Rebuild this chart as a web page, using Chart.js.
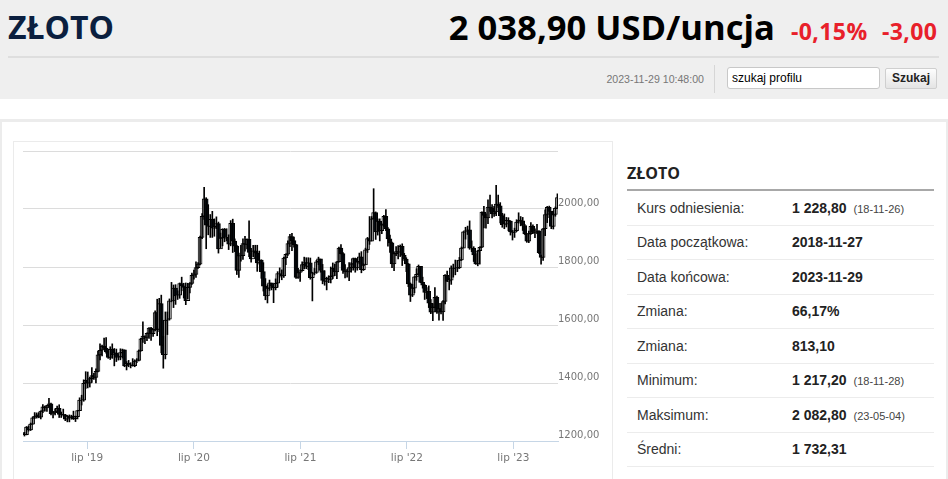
<!DOCTYPE html>
<html><head><meta charset="utf-8">
<script src="https://cdn.jsdelivr.net/npm/chart.js@4.4.0/dist/chart.umd.min.js"></script>
<style>
html,body{margin:0;padding:0;background:#fff;width:948px;height:479px;overflow:hidden;font-family:"Liberation Sans",Arial,sans-serif;}
.abs{position:absolute;white-space:nowrap;}
#hdr{position:absolute;left:0;top:0;width:948px;height:99px;background:#efefef;}
#sep{position:absolute;left:8px;top:56px;width:931px;height:2px;background:#dedede;}
#title{left:8px;top:11px;font:700 32px/32px "Open Sans",sans-serif;color:#0b1f3f;}
#price{right:173px;top:9px;font:700 34.6px/35px "Open Sans",sans-serif;color:#000;}
.red{font:700 23px/23px "Open Sans",sans-serif;color:#e8202a;top:20px;letter-spacing:0.4px;}
#date{right:244px;top:73px;font:10.6px/12px "Liberation Sans",Arial;color:#777;}
#vsep{position:absolute;left:714px;top:65px;width:1px;height:28px;background:#d6d6d6;}
#inp{position:absolute;left:727px;top:67px;border:1px solid #c8c8c8;border-radius:3px;background:#fff;font:12px/20px "Liberation Sans",Arial;color:#000;padding-left:4px;box-sizing:border-box;width:153px;height:22px;}
#btn{position:absolute;left:885px;top:68px;width:52px;height:21px;box-sizing:border-box;border:1px solid #cfcfcf;border-radius:2px;background:linear-gradient(#fdfdfd,#e4e4e4);font:700 12px/19px "Liberation Sans",Arial;color:#222;text-align:center;}
#outer{position:absolute;left:0;top:119px;width:948px;height:360px;box-sizing:border-box;border-top:3px solid #ececec;border-left:2px solid #ececec;border-right:2px solid #ececec;}
#panel{position:absolute;left:13px;top:141px;width:600px;height:340px;box-sizing:border-box;border:1px solid #ebebeb;}
#panel canvas{position:absolute;left:0;top:0;}
#rt{left:627px;top:163px;font:700 16px/20px "Open Sans",sans-serif;color:#222;}
#rline{position:absolute;left:627px;top:189px;width:307px;height:2px;background:#a8a8a8;}
.row{position:absolute;left:627px;width:307px;height:34px;border-bottom:1px solid #ececec;}
.lab{position:absolute;left:10px;top:0;font:14px/34px "Liberation Sans",Arial;color:#333;white-space:nowrap;}
.val{position:absolute;left:165px;top:0;font:700 14px/34px "Liberation Sans",Arial;color:#222;white-space:nowrap;}
.val small{font:400 11px "Liberation Sans",Arial;color:#444;margin-left:7px;}
</style></head>
<body>
<div id="hdr"></div>
<div id="sep"></div>
<div class="abs" id="title">ZŁOTO</div>
<div class="abs" id="price">2 038,90 USD/uncja</div>
<div class="abs red" style="left:791px">-0,15%</div>
<div class="abs red" style="left:882px">-3,00</div>
<div class="abs" id="date">2023-11-29 10:48:00</div>
<div id="vsep"></div>
<div id="inp">szukaj profilu</div>
<div id="btn">Szukaj</div>
<div id="outer"></div>
<div id="panel"><canvas id="c" width="598" height="338" style="width:598px;height:338px"></canvas></div>
<div class="abs" id="rt">ZŁOTO</div>
<div id="rline"></div>
<div id="tbl"></div>
<script>
// ---- data (weekly OHLC, USD/oz) ----
const firstWeek = [2018, 10, 28];           // Wednesday of first week
const referenceOpen = 1228.8;
const closes = [
1222,1248,1238,1258,1280,
1285,1290,1282,1303, 1318,1314,1322,1328, 1294,1298,1302,1313,1292, 1291,1290,1275,1286, 1280,1286,1277,1284,1305, 1341,1341,1399,1409, 1399,1415,1426,1419, 1440,1497,1513,1527,1520, 1507,1488,1516,1497, 1504,1488,1490,1505, 1514,1459,1468,1462,1463, 1460,1476,1478,1511,
1552,1562,1557,1571,1589, 1570,1584,1643,1585, 1674,1530,1498,1617, 1620,1683,1683,1727, 1700,1703,1743,1735,1730, 1684,1730,1743,1771, 1774,1798,1810,1902,1975, 2035,1944,1940,1964, 1934,1940,1950,1862, 1900,1930,1899,1902,1879, 1951,1889,1872,1788, 1839,1839,1881,1878,
1895,1850,1828,1856,1848, 1814,1824,1784,1734, 1700,1727,1745,1733, 1729,1744,1777,1777,1769, 1831,1844,1881,1905, 1891,1877,1764,1781, 1787,1808,1815,1802,1814, 1763,1780,1781,1818, 1828,1788,1754,1750, 1761,1757,1768,1796,1783, 1818,1865,1846,1788, 1784,1783,1798,1811,1829,
1797,1818,1835,1791, 1807,1859,1898,1889, 1966,1988,1921,1958, 1925,1945,1975,1932,1897, 1883,1811,1846,1853, 1851,1871,1840,1827, 1811,1742,1703,1727,1766, 1775,1802,1747,1737, 1712,1716,1675,1644,1661, 1695,1644,1657,1645, 1681,1771,1751,1755, 1797,1797,1793,1798,1824,
1865,1921,1926,1928, 1865,1865,1842,1811, 1856,1868,1989,1978,1969, 2007,2004,1983,1990, 2017,2011,1977,1946, 1948,1961,1958,1921,1919, 1925,1955,1962,1959, 1943,1914,1889,1915, 1940,1919,1924,1925,1849, 1833,1932,1981,2006, 1992,1940,1981,2002,2039
];
const highs = [
1230,1250,1252,1262,1283,
1298,1297,1298,1304, 1326,1320,1323,1347, 1331,1300,1311,1320,1325, 1300,1310,1292,1288, 1290,1289,1303,1286,1306, 1349,1358,1411,1439, 1438,1420,1453,1433, 1449,1510,1535,1531,1555, 1557,1512,1525,1535, 1519,1517,1498,1518, 1517,1514,1474,1478,1470, 1484,1480,1484,1514,
1554,1611,1563,1573,1591, 1592,1585,1649,1689, 1692,1703,1561,1645, 1645,1690,1747,1738, 1739,1718,1745,1765,1744, 1745,1744,1746,1779, 1789,1818,1815,1907,1984, 2075,2039,2015,1981, 1992,1966,1973,1955, 1917,1932,1933,1932,1911, 1960,1965,1897,1875, 1848,1875,1897,1906,
1897,1959,1864,1875,1875, 1875,1855,1825,1815, 1760,1739,1755,1744, 1741,1759,1784,1797,1790, 1834,1845,1890,1913, 1916,1903,1878,1795, 1790,1818,1834,1832,1832, 1831,1782,1795,1823, 1834,1827,1809,1787, 1765,1770,1800,1814,1810, 1819,1869,1877,1850, 1808,1793,1815,1815,1831,
1831,1830,1848,1853, 1811,1865,1902,1974, 1974,2070,1990,1966, 1966,1949,1978,1998,1936, 1910,1886,1849,1870, 1874,1876,1880,1847, 1832,1812,1745,1740,1767, 1794,1807,1802,1765, 1740,1729,1735,1688,1674, 1729,1700,1675,1675, 1684,1774,1786,1761, 1804,1810,1824,1823,1833,
1869,1922,1937,1941, 1959,1890,1870,1846, 1857,1870,1990,2009,1983, 2032,2048,2015,2009, 2082,2048,2022,1985, 1983,1971,1970,1959,1926, 1934,1963,1987,1974, 1971,1947,1916,1924, 1953,1945,1932,1947,1925, 1841,1933,1997,2009, 2010,1992,1993,2007,2052
];
const lows = [
1217,1221,1234,1236,1257,
1277,1279,1280,1276, 1298,1303,1302,1318, 1290,1280,1290,1298,1281, 1281,1286,1270,1266, 1266,1275,1274,1267,1276, 1305,1324,1337,1381, 1383,1386,1402,1412, 1400,1438,1480,1493,1516, 1503,1485,1481,1485, 1459,1474,1479,1480, 1486,1456,1445,1456,1452, 1458,1456,1470,1476,
1510,1540,1536,1546,1554, 1547,1561,1580,1563, 1577,1504,1451,1483, 1567,1617,1680,1660, 1671,1688,1692,1718,1693, 1670,1689,1711,1740, 1758,1764,1795,1807,1898, 1964,1863,1911,1902, 1902,1906,1932,1848, 1865,1873,1887,1890,1860, 1873,1850,1853,1774, 1764,1820,1826,1855,
1862,1836,1817,1835,1831, 1785,1810,1761,1717, 1687,1676,1719,1721, 1677,1721,1730,1765,1756, 1764,1808,1840,1870, 1856,1868,1761,1761, 1750,1786,1794,1794,1791, 1758,1683,1773,1778, 1808,1782,1742,1737, 1721,1746,1745,1760,1770, 1760,1817,1845,1778, 1762,1765,1753,1782,1789,
1782,1789,1811,1780, 1788,1808,1850,1878, 1890,1966,1895,1910, 1890,1915,1940,1925,1872, 1850,1798,1787,1839, 1828,1836,1805,1822, 1784,1732,1681,1698,1711, 1754,1773,1746,1727, 1688,1691,1660,1639,1615, 1660,1640,1617,1638, 1616,1673,1749,1721, 1740,1765,1773,1784,1795,
1822,1866,1896,1912, 1861,1853,1819,1809, 1804,1810,1867,1935,1934, 1949,1992,1969,1974, 1977,2005,1952,1937, 1932,1938,1925,1910,1893, 1902,1922,1951,1942, 1926,1912,1885,1884, 1912,1915,1901,1915,1846, 1810,1823,1908,1953, 1970,1932,1931,1975,2002
];
const tickDates = [[2019,6,1],[2020,6,1],[2021,6,1],[2022,6,1],[2023,6,1]];
const tickLabels = ["lip '19","lip '20","lip '21","lip '22","lip '23"];
const yTicks = [1200,1400,1600,1800,2000,2200];
const xRange = [[2018,10,23],[2023,11,1]];
// ---- right-hand table ----
const rowLabels = ["Kurs odniesienia:","Data początkowa:","Data końcowa:","Zmiana:","Zmiana:","Minimum:","Maksimum:","Średni:"];
const rowValues = ["1 228,80","2018-11-27","2023-11-29","66,17%","813,10","1 217,20","2 082,80","1 732,31"];
const rowNotes  = ["(18-11-26)","","","","","(18-11-28)","(23-05-04)",""];

const tbl = document.getElementById('tbl');
rowLabels.forEach((l,i)=>{
  const r=document.createElement('div'); r.className='row'; r.style.top=(191+i*34.43)+'px';
  r.innerHTML='<div class="lab">'+l+'</div><div class="val">'+rowValues[i]+(rowNotes[i]?'<small>'+rowNotes[i]+'</small>':'')+'</div>';
  tbl.appendChild(r);
});

const day = a => Date.UTC(a[0],a[1],a[2])/86400000;
const x0 = day(firstWeek);
const xs = closes.map((c,i)=>x0+7*i);
const opens = closes.map((c,i)=> i===0 ? referenceOpen : closes[i-1]);
const wickData = closes.map((c,i)=>({x:xs[i], y:[lows[i], highs[i]]}));
const bodyData = closes.map((c,i)=>({x:xs[i], y:[opens[i], c]}));
const bodyColors = closes.map((c,i)=> c>=opens[i] ? '#ffffff' : '#0f1b28');
const tickVals = tickDates.map(day);

new Chart(document.getElementById('c'), {
  type:'bar',
  data:{datasets:[
    {data:wickData, backgroundColor:'#000', barThickness:1, grouped:false, borderWidth:0},
    {data:bodyData, backgroundColor:bodyColors, borderColor:'#000', borderWidth:1, borderSkipped:false, barThickness:4, grouped:false}
  ]},
  options:{
    responsive:false, animation:false, devicePixelRatio:1,
    layout:{padding:{left:9,top:9,right:13,bottom:0}},
    plugins:{legend:{display:false}, tooltip:{enabled:false}},
    scales:{
      x:{type:'linear', offset:false, min:day(xRange[0]), max:day(xRange[1]),
         afterBuildTicks: s => { s.ticks = tickVals.map(v=>({value:v})); },
         afterFit: s => { s.height = 39; },
         grid:{display:true, drawOnChartArea:false, drawTicks:true, tickLength:8, color:'#c6d6e6', offset:false},
         border:{display:true, color:'#c6d6e6'},
         ticks:{autoSkip:false, maxRotation:0, padding:3, color:'#777', font:{family:'DejaVu Sans', size:10.5},
                callback: v => { const k = tickVals.indexOf(v); return k>=0 ? tickLabels[k] : ''; }}
      },
      y:{position:'right', min:yTicks[0], max:yTicks[yTicks.length-1],
         afterBuildTicks: s => { s.ticks = yTicks.map(v=>({value:v})); },
         afterFit: s => { s.width = 41; },
         grid:{drawTicks:false, color: c => (c.tick && c.tick.value===yTicks[0]) ? 'rgba(0,0,0,0)' : '#dcdcdc'},
         border:{display:false},
         ticks:{padding:0, labelOffset:-6, color:'#777', font:{family:'DejaVu Sans', size:10},
                callback: v => v===yTicks[yTicks.length-1] ? '' : v.toFixed(2).replace('.',',')}
      }
    }
  }
});
</script>
</body></html>
